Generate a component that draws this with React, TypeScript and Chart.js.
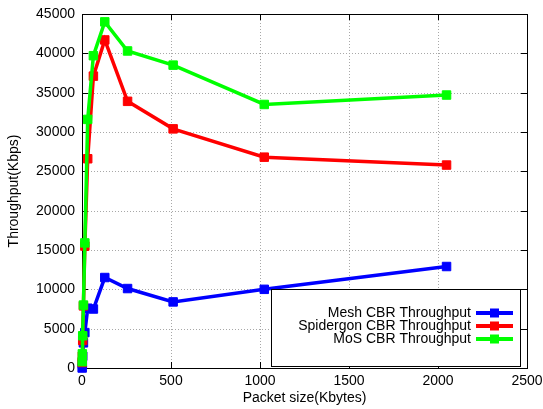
import React, { useEffect, useRef } from "react";
import { Chart, registerables } from "chart.js";

Chart.register(...registerables);

const packetSizes = [1, 2, 4, 8, 16, 32, 64, 128, 256, 512, 1024, 2048];
const meshThroughput = [0, 500, 1500, 3200, 4500, 7600, 7500, 11500, 10100, 8400, 10000, 12900];
const spidergonThroughput = [700, 1500, 3500, 7900, 15500, 26600, 37100, 41700, 33900, 30400, 26800, 25800];
const mosThroughput = [800, 1800, 4100, 8000, 15900, 31600, 39700, 44000, 40300, 38500, 33500, 34700];
const seriesLabels = ["Mesh CBR Throughput", "Spidergon CBR Throughput", "MoS CBR Throughput"];
const seriesColors = ["#0000ff", "#ff0000", "#00ff00"];
const xTickValues = [0, 500, 1000, 1500, 2000, 2500];
const yTickValues = [0, 5000, 10000, 15000, 20000, 25000, 30000, 35000, 40000, 45000];
const xTitle = "Packet size(Kbytes)";
const yTitle = "Throughput(Kbps)";

const FAMILY = "'Liberation Sans', Arial, sans-serif";
const FONT = "14px " + FAMILY;

const framePlugin = {
  id: "gnuFrame",
  beforeDatasetsDraw(chart: any) {
    const { ctx, chartArea: a, scales } = chart;
    ctx.save();
    // dotted grid
    ctx.strokeStyle = "#a8a8a8";
    ctx.lineWidth = 1;
    ctx.setLineDash([1, 2]);
    ctx.beginPath();
    for (const v of xTickValues.slice(1, -1)) {
      const x = Math.round(scales.x.getPixelForValue(v)) + 0.5;
      ctx.moveTo(x, a.top);
      ctx.lineTo(x, a.bottom);
    }
    for (const v of yTickValues.slice(1, -1)) {
      const y = Math.round(scales.y.getPixelForValue(v)) + 0.5;
      ctx.moveTo(a.left, y);
      ctx.lineTo(a.right, y);
    }
    ctx.stroke();
    ctx.setLineDash([]);
    // ticks
    ctx.strokeStyle = "#000";
    ctx.beginPath();
    const tl = 6;
    for (const v of xTickValues) {
      const x = Math.round(scales.x.getPixelForValue(v)) + 0.5;
      ctx.moveTo(x, a.bottom);
      ctx.lineTo(x, a.bottom - tl);
      ctx.moveTo(x, a.top);
      ctx.lineTo(x, a.top + tl);
    }
    for (const v of yTickValues) {
      const y = Math.round(scales.y.getPixelForValue(v)) + 0.5;
      ctx.moveTo(a.left, y);
      ctx.lineTo(a.left + tl, y);
      ctx.moveTo(a.right, y);
      ctx.lineTo(a.right - tl, y);
    }
    ctx.stroke();
    ctx.strokeRect(Math.round(a.left) + 0.5, Math.round(a.top) + 0.5, Math.round(a.right - a.left), Math.round(a.bottom - a.top));
    // axis titles
    ctx.fillStyle = "#000";
    ctx.font = FONT;
    ctx.textAlign = "center";
    ctx.textBaseline = "middle";
    ctx.fillText(xTitle, (a.left + a.right) / 2, 398);
    ctx.save();
    ctx.translate(14, (a.top + a.bottom) / 2);
    ctx.rotate(-Math.PI / 2);
    ctx.fillText(yTitle, 0, 0);
    ctx.restore();
    ctx.restore();
  },
  afterDraw(chart: any) {
    const { ctx } = chart;
    ctx.save();
    const bx = 271.5, by = 289.5, bw = 249, bh = 77;
    ctx.fillStyle = "#fff";
    ctx.fillRect(bx, by, bw, bh);
    ctx.strokeStyle = "#000";
    ctx.lineWidth = 1;
    ctx.strokeRect(bx, by, bw, bh);
    ctx.font = FONT;
    ctx.textAlign = "right";
    ctx.textBaseline = "middle";
    const rows = [313, 326, 339];
    seriesLabels.forEach((lab, i) => {
      const y = rows[i];
      ctx.fillStyle = "#000";
      ctx.fillText(lab, 471, y);
      ctx.strokeStyle = seriesColors[i];
      ctx.lineWidth = 4;
      ctx.beginPath();
      ctx.moveTo(476, y);
      ctx.lineTo(513, y);
      ctx.stroke();
      ctx.fillStyle = seriesColors[i];
      ctx.fillRect(490, y - 4.5, 9, 9);
    });
    ctx.restore();
  },
};

export default function App() {
  const ref = useRef<HTMLCanvasElement | null>(null);
  useEffect(() => {
    if (!ref.current) return;
    const mk = (data: number[], i: number, order: number) => ({
      label: seriesLabels[i],
      data: packetSizes.map((x, k) => ({ x, y: data[k] })),
      borderColor: seriesColors[i],
      backgroundColor: seriesColors[i],
      borderWidth: 3.5,
      pointStyle: "rect",
      pointRadius: 6,
      pointBorderWidth: 1,
      pointHoverRadius: 6,
      tension: 0,
      order,
      clip: 10,
    });
    const tickFont = { family: FAMILY, size: 14 };
    const chart = new Chart(ref.current, {
      type: "line",
      data: {
        datasets: [
          mk(meshThroughput, 0, 3),
          mk(spidergonThroughput, 1, 2),
          mk(mosThroughput, 2, 1),
        ] as any,
      },
      options: {
        responsive: false,
        animation: false,
        devicePixelRatio: 1,
        layout: { padding: { top: 14, right: 16, left: 0, bottom: 0 } },
        plugins: { legend: { display: false }, tooltip: { enabled: false } },
        scales: {
          x: {
            type: "linear",
            min: 0,
            max: 2500,
            afterBuildTicks: (s: any) => {
              s.ticks = xTickValues.map((v) => ({ value: v }));
            },
            afterFit: (s: any) => {
              s.height = 41;
              s.paddingLeft = 0;
              s.paddingRight = 0;
            },
            ticks: { color: "#000", font: tickFont, padding: 5, maxRotation: 0, callback: (v: any) => String(v) },
            grid: { display: false, drawTicks: false },
            border: { display: false },
          },
          y: {
            type: "linear",
            min: 0,
            max: 45000,
            afterBuildTicks: (s: any) => {
              s.ticks = yTickValues.map((v) => ({ value: v }));
            },
            afterFit: (s: any) => {
              s.width = 82;
              s.paddingTop = 0;
              s.paddingBottom = 0;
            },
            ticks: { color: "#000", font: tickFont, padding: 7, callback: (v: any) => String(v) },
            grid: { display: false, drawTicks: false },
            border: { display: false },
          },
        },
      },
      plugins: [framePlugin],
    } as any);
    return () => chart.destroy();
  }, []);
  return (
    <div style={{ position: "fixed", left: 0, top: 0, width: 543, height: 409, background: "#fff" }}>
      <canvas ref={ref} width={543} height={409} style={{ width: 543, height: 409 }} />
    </div>
  );
}
